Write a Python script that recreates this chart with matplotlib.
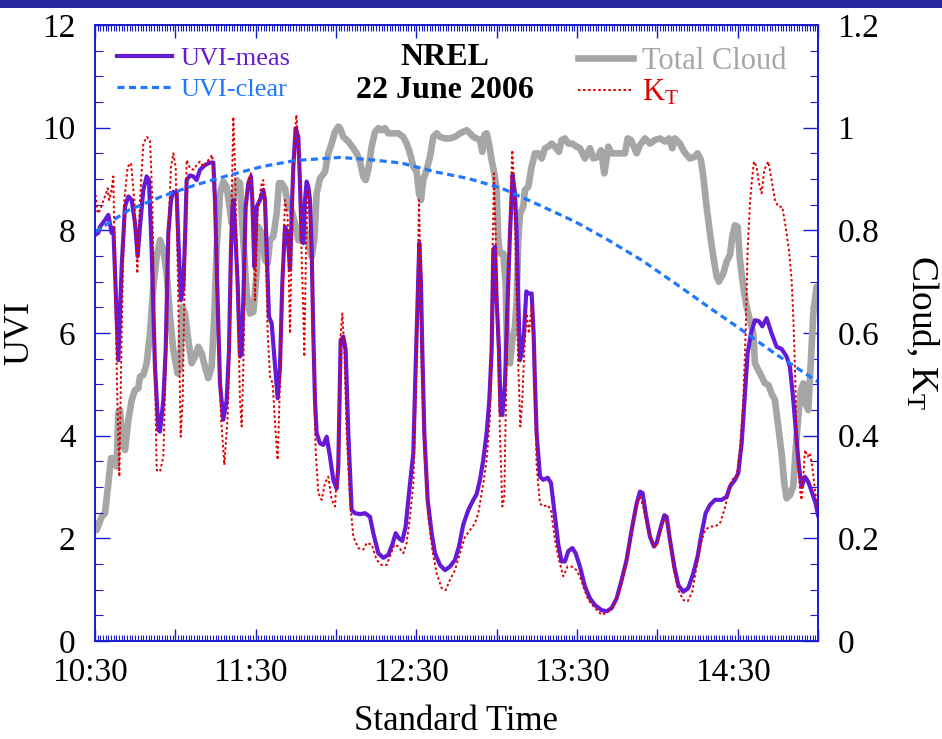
import matplotlib
matplotlib.use('Agg')
import matplotlib.pyplot as plt
from matplotlib.lines import Line2D
from matplotlib.patches import Rectangle
from matplotlib.transforms import ScaledTranslation
from matplotlib.ticker import MultipleLocator, FixedLocator, FixedFormatter, FuncFormatter

# ---------------- data (minutes after 10:30 standard time) ----------------
t_meas = [0, 1.24, 1.87, 3.73, 4.98, 6.22, 6.85, 8.71, 9.96, 11.2,
          12.45, 13.69, 14.94, 15.93, 16.8, 18.05, 19.29, 20.16, 21.16, 22.4,
          23.65, 24.27, 25.52, 26.39, 27.38, 28.38, 29.25, 30.5, 31.12, 32.11,
          32.98, 33.61, 34.23, 35.47, 36.72, 37.96, 39.21, 41.08, 42.94, 44.19,
          44.81, 45.8, 46.68, 47.92, 49.17, 50.04, 50.78, 51.28, 51.66, 52.28,
          53.27, 54.14, 54.77, 55.39, 56.26, 57.26, 58.25, 58.75, 59.5, 60.37,
          61.61, 62.86, 63.48, 64.1, 64.97, 65.97, 66.97, 68.21, 69.08, 69.95,
          70.95, 71.94, 72.82, 73.44, 74.06, 74.93, 75.93, 76.55, 77.17, 77.79,
          78.42, 79.04, 79.66, 80.28, 80.91, 81.53, 82.15, 82.77, 84.02, 85.26,
          86.51, 87.75, 89.0, 90.24, 90.86, 91.74, 92.73, 93.6, 94.6, 95.84,
          97.09, 98.96, 100.82, 102.69, 103.93, 105.8, 107.67, 109.54, 111.03, 112.27,
          113.52, 114.76, 116.01, 117.25, 118.87, 119.74, 120.49, 121.11, 121.73, 122.23,
          122.98, 124.22, 125.72, 126.96, 128.83, 130.7, 132.56, 134.43, 135.92, 137.54,
          139.41, 141.28, 142.52, 143.76, 145.01, 146.25, 147.25, 148.12, 148.74, 149.37,
          149.99, 150.86, 151.48, 152.1, 153.1, 154.1, 154.97, 155.96, 156.84, 157.46,
          158.08, 158.7, 159.32, 160.19, 161.07, 161.81, 163.06, 163.8, 164.3, 164.92,
          166.17, 167.41, 169.03, 170.28, 171.77, 173.02, 174.26, 175.5, 176.75, 178.24,
          179.49, 181.1, 182.97, 184.84, 186.71, 189.2, 191.06, 192.93, 194.8, 196.67,
          198.53, 200.4, 202.27, 203.51, 204.51, 205.63, 207.25, 208.74, 209.74, 211.35,
          212.6, 213.47, 214.71, 216.33, 217.83, 219.69, 221.56, 223.43, 225.04, 226.54,
          228.03, 229.65, 231.52, 234.01, 235.87, 237.12, 238.99, 240.23, 241.48, 242.72,
          243.72, 244.96, 246.45, 247.95, 249.19, 250.81, 252.68, 254.55, 256.41, 258.28,
          259.52, 260.77, 262.01, 262.89, 263.88, 265.13, 266.37, 267.86, 269.11, 270]
uvi_meas = [7.91, 7.95, 8.07, 8.2, 8.3, 7.95, 8.05, 5.47, 7.29, 8.46,
            8.66, 8.59, 8.14, 7.49, 8.07, 8.79, 9.05, 8.98, 7.62, 5.34,
            4.11, 4.08, 4.69, 5.66, 7.94, 8.59, 8.75, 8.72, 7.81, 6.64,
            6.9, 7.81, 8.98, 9.07, 9.05, 8.98, 9.18, 9.27, 9.32, 9.32,
            8.59, 6.64, 5.02, 4.31, 4.69, 5.66, 7.62, 8.39, 8.59, 8.07,
            6.97, 5.54, 5.6, 6.64, 8.46, 8.92, 9.05, 8.59, 7.29, 8.46,
            8.59, 8.79, 8.59, 7.62, 6.32, 6.19, 5.54, 4.73, 5.34, 6.97,
            8.07, 7.94, 7.23, 8.33, 9.24, 9.99, 9.82, 8.92, 7.81, 7.75,
            8.59, 8.95, 8.85, 8.59, 7.62, 5.99, 4.69, 4.05, 3.85, 3.82,
            3.98, 3.59, 3.14, 2.97, 3.4, 5.86, 5.93, 5.67, 4.05, 2.55,
            2.49, 2.47, 2.49, 2.42, 2.10, 1.71, 1.62, 1.68, 1.88, 2.10,
            2.0, 1.95, 2.23, 2.88, 3.66, 5.34, 6.64, 7.75, 6.97, 5.67,
            4.05, 2.75, 2.1, 1.71, 1.48, 1.38, 1.45, 1.58, 1.84, 2.27,
            2.55, 2.75, 2.86, 3.14, 3.53, 4.05, 4.69, 5.67, 7.62, 7.68,
            6.64, 5.67, 4.44, 4.4, 5.02, 6.64, 7.94, 9.08, 8.72, 7.94,
            6.64, 5.47, 5.6, 5.99, 6.81, 6.77, 6.77, 5.99, 5.02, 4.05,
            3.2, 3.14, 3.18, 3.08, 2.42, 1.88, 1.55, 1.55, 1.75, 1.81,
            1.71, 1.45, 1.06, 0.83, 0.70, 0.60, 0.58, 0.64, 0.83, 1.19,
            1.58, 2.16, 2.68, 2.91, 2.88, 2.49, 2.03, 1.84, 1.91, 2.23,
            2.45, 2.42, 1.97, 1.45, 1.09, 0.96, 1.03, 1.32, 1.65, 2.10,
            2.49, 2.65, 2.75, 2.75, 2.81, 3.01, 3.14, 3.27, 3.85, 4.82,
            5.6, 5.99, 6.25, 6.23, 6.13, 6.29, 5.99, 5.73, 5.69, 5.54,
            5.34, 4.69, 3.92, 3.40, 3.0, 3.2, 3.1, 2.88, 2.68, 2.45]

t_clear = [0, 12.45, 24.9, 37.3, 49.8, 62.2, 74.7, 91.5, 102.1, 114.5, 127,
           139.4, 151.9, 164.3, 179.24, 191.7, 204.1, 216.6, 229, 241.5, 253.9, 270]
uvi_clear = [7.97, 8.39, 8.66, 8.88, 9.07, 9.24, 9.36, 9.42, 9.38, 9.31, 9.14,
             9.01, 8.82, 8.53, 8.17, 7.81, 7.42, 6.97, 6.51, 6.06, 5.6, 5.05]

t_cloud = [0, 0.62, 2.49, 3.73, 4.98, 5.97, 6.85, 8.09, 8.71, 9.34,
           10.21, 11.2, 12.45, 13.69, 14.94, 16.18, 16.8, 18.05, 19.29, 20.54,
           21.78, 23.03, 24.27, 25.52, 26.76, 28.01, 29.25, 30.87, 31.74, 32.61,
           33.61, 34.85, 36.1, 37.34, 38.59, 39.83, 41.08, 42.32, 43.56, 44.56,
           45.43, 46.68, 47.92, 49.17, 50.41, 51.03, 51.66, 52.9, 54.14, 55.39,
           56.63, 57.88, 59.12, 60.37, 60.99, 62.24, 63.48, 64.48, 65.35, 66.59,
           67.84, 68.71, 69.7, 70.95, 72.19, 73.44, 74.68, 75.93, 77.17, 78.17,
           79.41, 80.91, 81.9, 82.77, 84.02, 85.89, 87.13, 88.37, 89.62, 90.86,
           91.49, 92.73, 94.6, 96.47, 97.71, 98.96, 100.2, 101.07, 102.07, 103.31,
           104.56, 105.8, 107.05, 108.29, 109.54, 111.4, 113.27, 115.14, 116.38, 117.63,
           118.87, 120.12, 120.99, 121.73, 122.6, 123.85, 125.09, 126.34, 127.58, 128.83,
           130.7, 132.56, 134.43, 136.3, 137.54, 138.79, 140.03, 141.28, 142.52, 143.76,
           144.64, 145.38, 146.25, 147.13, 148.12, 149.12, 149.99, 150.61, 151.23, 152.48,
           153.35, 153.97, 154.97, 155.84, 156.84, 157.46, 158.08, 158.7, 159.95, 160.57,
           161.81, 163.06, 164.3, 165.55, 166.79, 168.04, 169.28, 170.53, 171.77, 173.26,
           174.26, 175.5, 176.75, 178.24, 179.86, 181.1, 182.97, 184.84, 186.09, 187.7,
           188.95, 190.19, 191.06, 191.69, 192.93, 195.42, 197.91, 198.91, 200.15, 202.27,
           203.51, 205.38, 207.25, 209.11, 210.98, 212.85, 214.34, 215.59, 216.58, 218.45,
           219.69, 220.94, 222.18, 223.8, 225.04, 226.29, 227.16, 228.41, 229.65, 230.9,
           232.14, 233.01, 234.63, 235.87, 237.12, 237.99, 238.99, 239.98, 240.85, 242.1,
           243.34, 244.59, 245.83, 246.45, 247.7, 248.94, 250.19, 251.43, 252.68, 253.92,
           255.17, 256.41, 257.41, 258.28, 259.52, 260.77, 261.64, 262.64, 263.63, 264.5,
           265.37, 266.37, 267.36, 268.24, 269.48, 270]
cloud = [.235, .216, .242, .249, .307, .356, .356, .34, .444, .45,
         .392, .372, .431, .469, .489, .492, .515, .518, .541, .599,
         .69, .749, .781, .762, .716, .632, .567, .521, .534, .651,
         .638, .586, .541, .554, .573, .56, .534, .512, .534, .632,
         .762, .872, .895, .885, .839, .814, .859, .898, .892, .781,
         .677, .638, .641, .716, .807, .794, .742, .736, .781, .788,
         .833, .892, .892, .882, .846, .839, .814, .781, .781, .807,
         .781, .749, .781, .872, .901, .914, .95, .969, .992, 1.002,
         .999, .982, .973, .96, .95, .934, .904, .898, .918, .963,
         .992, .999, .995, .999, .989, .989, .989, .982, .969, .95,
         .924, .914, .872, .859, .898, .918, .943, .982, .989, .982,
         .979, .979, .982, .989, .992, .995, .989, .982, .979, .976,
         .953, .986, .989, .969, .937, .911, .879, .781, .755, .755,
         .697, .547, .541, .586, .612, .664, .781, .833, .846, .879,
         .885, .924, .95, .95, .94, .96, .963, .969, .963, .953,
         .976, .979, .969, .969, .963, .96, .94, .96, .94, .943,
         .956, .911, .94, .963, .95, .95, .95, .979, .976, .95,
         .966, .979, .969, .976, .979, .973, .979, .96, .979, .969,
         .956, .947, .94, .943, .95, .937, .905, .846, .794, .749,
         .71, .70, .716, .739, .752, .788, .81, .807, .742, .69,
         .651, .625, .599, .541, .528, .515, .502, .499, .482, .469,
         .418, .366, .307, .278, .284, .301, .372, .437, .489, .502,
         .463, .45, .547, .638, .69, .69]

t_kt = [0, 1.0, 1.87, 2.74, 3.73, 4.73, 5.23, 5.97, 6.85, 7.47,
        8.34, 9.09, 9.96, 10.95, 12.2, 13.44, 14.69, 15.81, 16.8, 18.05,
        19.29, 20.54, 21.41, 22.16, 23.03, 24.27, 25.52, 26.39, 27.38, 28.38,
        29.25, 30.12, 31.12, 31.99, 32.74, 33.36, 34.23, 35.47, 36.72, 37.96,
        39.21, 40.45, 42.32, 43.81, 44.81, 45.8, 47.05, 48.29, 49.54, 50.41,
        51.03, 51.66, 52.28, 53.27, 54.14, 54.77, 55.39, 56.26, 57.26, 58.25,
        59.12, 59.75, 60.74, 62.24, 62.86, 63.48, 64.48, 65.35, 66.34, 67.46,
        68.21, 69.08, 69.95, 70.95, 71.94, 72.82, 73.69, 74.43, 75.18, 76.18,
        76.92, 77.67, 78.17, 78.79, 79.41, 80.03, 80.91, 81.65, 82.4, 83.4,
        84.64, 85.89, 87.13, 88.37, 89.62, 90.86, 91.74, 92.36, 93.11, 93.98,
        95.22, 96.47, 98.33, 100.2, 101.45, 103.31, 105.18, 107.05, 108.91, 110.16,
        111.78, 113.27, 115.14, 116.38, 117.63, 118.87, 119.74, 120.49, 120.99, 121.48,
        121.98, 122.98, 124.47, 125.97, 127.58, 129.45, 130.94, 132.56, 134.43, 136.3,
        138.16, 140.03, 141.9, 143.14, 145.01, 146.25, 147.5, 148.37, 148.99, 149.61,
        150.36, 151.23, 152.1, 152.85, 153.47, 154.1, 154.97, 155.84, 156.46, 157.21,
        158.08, 158.83, 159.57, 160.32, 161.19, 162.06, 163.06, 164.05, 164.92, 166.17,
        167.41, 169.03, 170.28, 171.77, 173.26, 174.88, 176.5, 177.99, 179.86, 181.1,
        182.35, 184.22, 186.71, 189.2, 191.06, 192.93, 194.8, 196.67, 198.53, 200.4,
        202.27, 203.51, 204.76, 206.0, 207.62, 209.11, 210.36, 211.85, 213.1, 214.34,
        215.96, 217.83, 219.69, 221.31, 223.05, 224.67, 226.29, 227.78, 229.65, 231.52,
        233.38, 235.0, 236.25, 237.74, 239.61, 240.85, 242.1, 242.97, 243.72, 244.59,
        245.21, 246.08, 247.08, 247.95, 248.94, 249.94, 251.43, 252.68, 253.92, 255.17,
        256.66, 257.91, 259.15, 260.15, 260.77, 261.39, 262.01, 262.64, 263.26, 263.88,
        264.5, 265.13, 266.12, 267.0, 267.86, 268.86, 270]
kt = [.879, .833, .839, .853, .866, .882, .859, .872, .905, .697,
      .469, .32, .599, .859, .924, .931, .859, .716, .859, .969,
      .982, .976, .859, .599, .333, .33, .359, .534, .794, .924,
      .95, .924, .664, .398, .469, .664, .937, .921, .918, .927,
      .934, .924, .937, .947, .827, .632, .437, .343, .437, .599,
      .859, 1.021, .924, .664, .469, .418, .534, .827, .898, .911,
      .827, .664, .839, .892, .898, .827, .599, .515, .502, .405,
      .353, .502, .697, .859, .827, .599, .846, .969, 1.025, .956,
      .794, .664, .554, .762, .879, .859, .729, .534, .372, .288,
      .275, .308, .32, .275, .262, .372, .599, .638, .567, .405,
      .275, .203, .181, .178, .191, .188, .158, .148, .148, .165,
      .188, .184, .171, .191, .242, .307, .469, .697, .859, .729,
      .534, .372, .242, .178, .132, .103, .099, .119, .138, .171,
      .203, .216, .229, .249, .307, .353, .437, .729, .911, .794,
      .599, .405, .262, .281, .469, .664, .827, .956, .892, .729,
      .534, .418, .469, .567, .638, .599, .651, .534, .34, .268,
      .262, .265, .255, .197, .158, .126, .145, .145, .138, .125,
      .106, .08, .064, .051, .055, .064, .08, .112, .158, .216,
      .265, .281, .262, .229, .197, .181, .197, .229, .242, .21,
      .145, .099, .08, .077, .096, .145, .191, .216, .223, .223,
      .229, .255, .281, .314, .32, .372, .469, .599, .762, .853,
      .892, .934, .924, .892, .872, .918, .934, .898, .859, .846,
      .846, .807, .762, .703, .632, .534, .405, .34, .294, .275,
      .32, .372, .359, .366, .34, .294, .255]

x_ticks = [0, 30, 60, 90, 120, 150, 180, 210, 240, 270]
x_labels = ['10:30', '', '11:30', '', '12:30', '', '13:30', '', '14:30', '']

# ---------------- style ----------------
PURPLE = '#6619d6'
BLUE = '#1f78ff'
GREY = '#a6a6a6'
RED = '#e00000'
AXBLUE = '#1a1ad2'

plt.rcParams['font.family'] = ['Liberation Serif', 'DejaVu Serif']
plt.rcParams['mathtext.fontset'] = 'custom'
plt.rcParams['mathtext.rm'] = 'Liberation Serif'
plt.rcParams['mathtext.it'] = 'Liberation Serif:italic'
plt.rcParams['mathtext.bf'] = 'Liberation Serif:bold'

W, H = 942, 739
fig = plt.figure(figsize=(W / 100, H / 100), dpi=100)
fig.patches.append(Rectangle((0, 1 - 8 / H), 1, 8 / H, transform=fig.transFigure,
                             facecolor='#2828a0', edgecolor='none', zorder=0))

ax = fig.add_axes([95 / W, 98 / H, 723 / W, 616 / H])
ax2 = ax.twinx()
ax.set_zorder(2)
ax2.set_zorder(1)
ax.patch.set_visible(False)

dash_clear = (0, (2.2, 1.4))
dot_kt = (0, (1.3, 1.3))

ax2.plot(t_cloud, cloud, color=GREY, lw=4.8, solid_joinstyle='round', solid_capstyle='butt')
ax.plot(t_meas, uvi_meas, color=PURPLE, lw=3.0, solid_joinstyle='round')
ax.plot(t_kt, kt, color=RED, lw=1.4, linestyle=dot_kt, transform=ax2.transData)
ax.plot(t_clear, uvi_clear, color=BLUE, lw=2.3, linestyle=dash_clear)

ax.set_xlim(0, 270)
ax.set_ylim(0, 12)
ax2.set_ylim(0, 1.2)

ax.xaxis.set_major_locator(FixedLocator(x_ticks))
ax.xaxis.set_major_formatter(FixedFormatter(x_labels))
ax.xaxis.set_minor_locator(MultipleLocator(1))
ax.yaxis.set_major_locator(MultipleLocator(2))
ax.yaxis.set_minor_locator(MultipleLocator(0.5))
ax2.yaxis.set_major_locator(MultipleLocator(0.2))
ax2.yaxis.set_minor_locator(MultipleLocator(0.05))
ax2.yaxis.set_major_formatter(FuncFormatter(lambda v, p: '%g' % round(v, 2)))

ax.tick_params(axis='x', which='major', direction='in', top=True, bottom=True,
               length=9, width=1.0, color=AXBLUE, labelsize=24, pad=12)
ax.tick_params(axis='x', which='minor', direction='in', top=True, bottom=True,
               length=4.5, width=0.8, color=AXBLUE)
ax.tick_params(axis='y', which='major', direction='in', left=True, right=False,
               length=11, width=1.0, color=AXBLUE, labelsize=24, pad=14)
ax.tick_params(axis='y', which='minor', direction='in', left=True, right=False,
               length=6, width=0.8, color=AXBLUE)
ax2.tick_params(axis='y', which='major', direction='in', length=11, width=1.0,
                color=AXBLUE, labelsize=24, pad=14)
ax2.tick_params(axis='y', which='minor', direction='in', length=6, width=0.8,
                color=AXBLUE)

for a in (ax, ax2):
    for s in a.spines.values():
        s.set_color(AXBLUE)
        s.set_linewidth(1.2)

shift = ScaledTranslation(-5 / 100, 0, fig.dpi_scale_trans)
for lab in ax.get_xticklabels():
    lab.set_transform(lab.get_transform() + shift)

ax.set_xlabel('Standard Time', fontsize=25, labelpad=12)
ax.set_ylabel('UVI', fontsize=26, labelpad=4)
ax2.set_ylabel(r'Cloud, K$_\mathrm{T}$', fontsize=27, rotation=270, labelpad=44)

# legends
h_meas = Line2D([], [], color=PURPLE, lw=3.0)
h_clear = Line2D([], [], color=BLUE, lw=2.3, linestyle=dash_clear)
h_cloud = Line2D([], [], color=GREY, lw=4.8)
h_kt = Line2D([], [], color=RED, lw=1.4, linestyle=dot_kt)

leg1 = ax.legend([h_meas, h_clear], ['UVI-meas', 'UVI-clear'], loc='upper left',
                 bbox_to_anchor=(0.03, 0.965), frameon=False, fontsize=19,
                 handlelength=2.1, handletextpad=0.3, labelspacing=0.3,
                 borderpad=0, borderaxespad=0)
for txt, c in zip(leg1.get_texts(), [PURPLE, BLUE]):
    txt.set_color(c)
ax.add_artist(leg1)
leg2 = ax.legend([h_cloud, h_kt], ['Total Cloud', r'K$_\mathrm{T}$'], loc='upper left',
                 bbox_to_anchor=(0.668, 0.965), frameon=False, fontsize=22,
                 handlelength=1.8, handletextpad=0.3, labelspacing=0.08,
                 borderpad=0, borderaxespad=0)
for txt, c in zip(leg2.get_texts(), [GREY, RED]):
    txt.set_color(c)

ax.text(0.484, 0.947, 'NREL', transform=ax.transAxes, ha='center', va='center',
        fontsize=23, fontweight='bold')
ax.text(0.484, 0.893, '22 June 2006', transform=ax.transAxes, ha='center', va='center',
        fontsize=23, fontweight='bold')

fig.savefig('out.png', dpi=100)
